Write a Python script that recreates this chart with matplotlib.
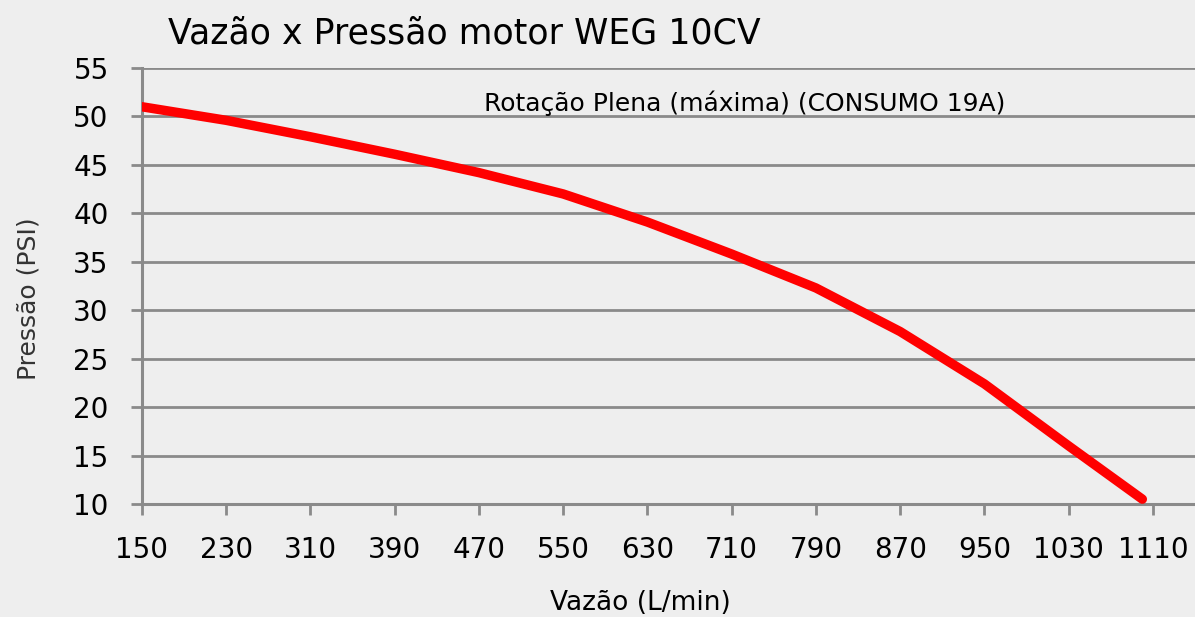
import numpy as np
import matplotlib
matplotlib.use("Agg")
import matplotlib.pyplot as plt

# vazao (L/min) x pressao (PSI)
vazao = [150, 230, 310, 390, 470, 550, 630, 710, 790, 870, 950, 1030, 1100]
pressao = [51.0, 49.6, 47.9, 46.1, 44.2, 42.0, 39.1, 35.8, 32.3, 27.8, 22.4, 16.0, 10.5]

x_ticks = list(range(150, 1111, 80))
y_ticks = list(range(10, 56, 5))

titulo = "Vazão x Pressão motor WEG 10CV"
serie = "Rotação Plena (máxima) (CONSUMO 19A)"

plt.rcParams['font.family'] = ['DejaVu Sans']

fig = plt.figure(figsize=(11.95, 6.17), dpi=100)
fig.patch.set_facecolor('#eeeeee')
ax = fig.add_axes([0.1188, 0.1831, 0.8812, 0.7067])
ax.set_facecolor('none')

grid_c = '#8a8a8a'
ax.plot(vazao, pressao, color='#ff0000', lw=6.8, solid_capstyle='round',
        solid_joinstyle='round', zorder=3)

ax.set_xlim(150, 1150)
ax.set_ylim(10, 55)
ax.set_xticks(x_ticks)
ax.set_yticks(y_ticks)
ax.yaxis.grid(True, color=grid_c, lw=2.0)
ax.set_axisbelow(True)

for s in ['top', 'right']:
    ax.spines[s].set_visible(False)
for s in ['left', 'bottom']:
    ax.spines[s].set_color(grid_c)
    ax.spines[s].set_linewidth(2.2)

ax.tick_params(axis='both', colors=grid_c, width=2.0, length=8,
               labelcolor='black', labelsize=20)
ax.tick_params(axis='y', pad=16)
ax.tick_params(axis='x', pad=15)

ax.set_xlabel("Vazão (L/min)", fontsize=19, va='center')
ax.xaxis.set_label_coords(0.473, -0.227)
ax.set_ylabel("Pressão (PSI)", fontsize=18, color='#333333', va='center')
ax.yaxis.set_label_coords(-0.108, 0.472)

fig.text(0.1406, 0.946, titulo, fontsize=25, va='center', ha='left')
ax.text(0.325, 0.92, serie, transform=ax.transAxes, fontsize=18,
        va='center', ha='left')

fig.savefig("out.png", dpi=100, facecolor=fig.get_facecolor())
